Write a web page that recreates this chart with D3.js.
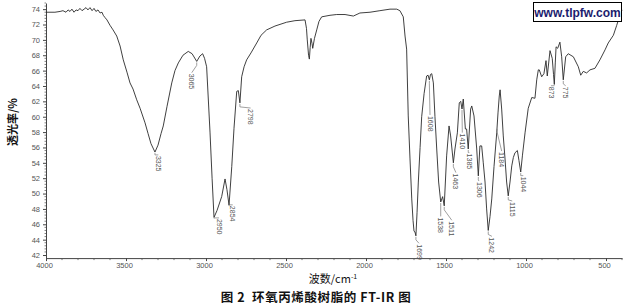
<!DOCTYPE html>
<html><head><meta charset="utf-8">
<script src="https://cdn.jsdelivr.net/npm/d3@7"></script>
<style>
html,body{margin:0;padding:0;background:#fff;}
svg{display:block;}
</style></head>
<body>
<svg id="c" width="627" height="307"></svg>
<script>
// Spectrum: wavenumber (cm-1) and transmittance (%)
const wavenumbers = [4000,3944,3912,3894,3875,3862,3850,3838,3825,3812,3800,3788,3775,3762,3750,3738,3725,3712,3700,3688,3675,3662,3650,3642,3631,3619,3600,3581,3558,3537,3517,3494,3475,3456,3433,3412,3381,3362,3344,3319,3300,3281,3267,3244,3214,3194,3173,3144,3111,3087,3058,3038,3021,3009,2996,2975,2962,2950,2931,2902,2881,2869,2856,2839,2825,2808,2798,2788,2777,2762,2746,2719,2683,2656,2621,2569,2496,2444,2381,2372,2367,2359,2354,2349,2344,2337,2333,2322,2308,2294,2277,2225,2183,2131,2079,2038,1975,1913,1850,1808,1788,1767,1756,1746,1736,1725,1714,1706,1700,1694,1688,1681,1673,1662,1652,1637,1621,1612,1604,1597,1589,1579,1569,1558,1546,1533,1521,1511,1496,1481,1471,1454,1444,1429,1417,1408,1400,1392,1379,1371,1361,1346,1339,1325,1308,1298,1288,1277,1267,1256,1246,1236,1225,1214,1200,1183,1175,1167,1162,1152,1142,1131,1121,1111,1100,1089,1079,1069,1054,1044,1033,1022,1006,986,964,944,933,923,917,902,888,875,867,850,836,828,823,817,812,802,788,777,767,752,736,704,673,658,642,621,600,569,538,506,486,454,433,412,400];
const transmittance = [73.6,73.6,73.7,73.8,73.6,73.9,73.7,74.0,73.6,73.9,73.8,74.1,73.8,74.0,74.2,73.9,74.2,73.8,74.1,73.7,73.9,73.5,73.6,73.2,72.9,72.6,71.9,71.3,70.5,69.2,67.4,65.8,64.4,63.6,62.2,61.1,59.2,57.8,56.5,55.4,56.3,57.8,58.8,61.3,64.4,66.0,67.0,68.0,68.5,68.2,67.2,67.9,68.2,67.6,66.5,58.0,52.0,46.9,47.8,49.6,51.9,50.5,48.5,53.5,58.5,63.3,63.4,61.8,65.2,66.5,67.4,68.3,69.6,70.6,71.3,71.8,72.3,72.5,72.6,71.5,70.0,68.0,67.5,69.0,70.2,69.5,68.9,70.2,71.3,72.4,73.0,73.2,73.3,73.3,73.1,73.5,73.6,73.8,74.0,74.0,73.8,73.0,70.5,68.8,60.1,54.5,49.3,46.5,45.1,45.0,44.5,47.5,51.5,56.0,60.0,63.0,65.3,65.4,64.8,65.5,65.6,64.4,60.0,55.8,51.5,48.9,49.6,48.4,54.9,58.8,57.5,54.0,55.8,57.9,61.8,62.0,61.0,62.3,58.4,58.4,55.8,61.0,61.4,60.1,55.8,52.3,56.2,56.2,54.0,51.5,48.0,45.2,47.0,49.3,53.5,57.9,60.5,62.7,63.5,61.0,57.5,54.5,51.5,49.7,51.5,53.6,54.7,55.3,55.6,54.3,52.8,55.0,57.9,61.1,62.5,62.4,64.8,66.1,66.1,65.2,65.6,67.3,65.3,68.6,67.6,65.5,64.2,67.0,69.1,68.9,69.7,67.8,64.8,67.8,68.2,67.8,66.5,65.4,65.9,65.7,66.1,66.3,67.4,68.7,69.6,70.6,71.9,73.3,73.9];

// Peak annotations
const peakTexts    = ["3325","3065","2950","2854","2798","1699","1608","1538","1511","1463","1410","1385","1306","1242","1184","1115","1044","873","775"];
const peakAnchorWn = [3319,3058,2950,2856,2788,1688,1604,1533,1511,1454,1400,1361,1298,1236,1181,1111,1033,823,767];
const peakLabelWn  = [3298,3089,2919,2833,2721,1669,1600,1533,1464,1438,1398,1354,1294,1213,1152,1086,1017,844,752];
const peakLabelT   = [54.9,65.6,46.7,48.4,61.0,43.4,60.1,46.9,46.4,52.6,57.8,55.2,51.5,44.3,55.4,48.9,52.2,63.9,63.9];

// Axes
const xTicks = [4000,3500,3000,2500,2000,1500,1000,500];
const yTicks = [42,44,46,48,50,52,54,56,58,60,62,64,66,68,70,72,74];
const yTitle = "透光率/%";
const xTitleMain = "波数/cm";
const xTitleSup = "-1";
const caption = "图 2  环氧丙烯酸树脂的 FT-IR 图";
const watermark = "www.tlpfw.com";

const svg = d3.select("#c");
const x = d3.scaleLinear().domain([4000, 400]).range([46, 622]);
const y = d3.scaleLinear().domain([41.6, 74.8]).range([258.1, 3]);

const data = wavenumbers.map((w,i)=>({w, t: transmittance[i]}));

// y axis
const yAxis = d3.axisLeft(y).tickValues(yTicks).tickSize(3).tickPadding(3).tickSizeOuter(0);
const gy = svg.append("g").attr("transform", `translate(${x(4000)},0)`).call(yAxis);
gy.select(".domain").attr("stroke", "#444");
gy.selectAll(".tick line").attr("stroke", "#444");
gy.selectAll(".tick text").attr("font-family","Liberation Sans, Arial, sans-serif").attr("font-size","7.5px").attr("fill","#555");
// minor y ticks
const yMinor = d3.range(42, 74.81, 0.4).filter(v => Math.abs(Math.round(v/2)*2 - v) > 0.05);
svg.append("g").selectAll("line").data(yMinor).join("line")
  .attr("x1", x(4000)-1.5).attr("x2", x(4000)).attr("y1", d=>y(d)).attr("y2", d=>y(d))
  .attr("stroke","#666").attr("stroke-width",0.8);

// x axis
const xAxis = d3.axisBottom(x).tickValues(xTicks).tickFormat(d3.format("d")).tickSize(3).tickPadding(2).tickSizeOuter(0);
const gx = svg.append("g").attr("transform", `translate(0,${y(41.6)})`).call(xAxis);
gx.select(".domain").attr("stroke", "#444");
gx.selectAll(".tick line").attr("stroke", "#444");
gx.selectAll(".tick text").attr("font-family","Liberation Sans, Arial, sans-serif").attr("font-size","7.5px").attr("fill","#555").attr("dx","-2px");
const xMinor = d3.range(3900, 399, -100).filter(v => v % 500 !== 0);
svg.append("g").selectAll("line").data(xMinor).join("line")
  .attr("x1", d=>x(d)).attr("x2", d=>x(d)).attr("y1", y(41.6)).attr("y2", y(41.6)+2)
  .attr("stroke","#555").attr("stroke-width",0.8);

// spectrum line
const line = d3.line().x(d=>x(d.w)).y(d=>y(d.t));
svg.append("path").datum(data).attr("d", line).attr("fill","none").attr("stroke","#2a2a2a").attr("stroke-width",0.9);

// curve value at a wavenumber
function curveAt(w){
  for (let i=0;i<data.length-1;i++){
    const a=data[i], b=data[i+1];
    if (w<=a.w && w>=b.w){ const f=(a.w-w)/(a.w-b.w); return a.t+(b.t-a.t)*f; }
  }
  return data[data.length-1].t;
}

// peak leader lines & labels
const peaks = peakTexts.map((s,i)=>({s, aw: peakAnchorWn[i], lw: peakLabelWn[i], lt: peakLabelT[i]}));
svg.append("g").selectAll("path").data(peaks).join("path")
  .attr("d", d => `M${x(d.aw)},${y(curveAt(d.aw))+1}L${x(d.aw)},${Math.min(y(curveAt(d.aw))+4, y(d.lt)-1)}L${x(d.lw)},${y(d.lt)-1}`)
  .attr("fill","none").attr("stroke","#777").attr("stroke-width",0.7);
svg.append("g").selectAll("text").data(peaks).join("text")
  .attr("transform", d => `translate(${x(d.lw)},${y(d.lt)}) rotate(90)`)
  .attr("dy","0.35em")
  .attr("font-family","Liberation Sans, Arial, sans-serif").attr("font-size","7px").attr("fill","#555")
  .text(d=>d.s);

// axis titles
svg.append("text").attr("transform","translate(17,122) rotate(-90)")
  .attr("text-anchor","middle").attr("font-family","Noto Sans CJK SC, sans-serif")
  .attr("font-size","11px").attr("font-weight","bold").attr("fill","#111").text(yTitle);
const xt = svg.append("text").attr("x",333).attr("y",283).attr("text-anchor","middle")
  .attr("font-family","Noto Sans CJK SC, sans-serif").attr("font-size","11px").attr("fill","#111");
xt.append("tspan").text(xTitleMain);
xt.append("tspan").attr("dy","-4").attr("font-size","7px").text(xTitleSup);

// caption
svg.append("text").attr("x",316).attr("y",302).attr("text-anchor","middle")
  .attr("font-family","Noto Sans CJK SC, sans-serif").attr("font-size","12.5px").attr("font-weight","bold")
  .attr("letter-spacing","0.6px")
  .attr("fill","#111").attr("xml:space","preserve").style("white-space","pre").text(caption);

// watermark
svg.append("rect").attr("x",533.5).attr("y",2.5).attr("width",88).attr("height",19)
  .attr("fill","#fff").attr("stroke","#000").attr("stroke-width",1);
svg.append("text").attr("x",577.5).attr("y",16.5).attr("text-anchor","middle")
  .attr("font-family","Liberation Sans, Arial, sans-serif").attr("font-size","12px").attr("font-weight","bold")
  .attr("fill","#1c1c6e").text(watermark);
</script>
</body></html>
